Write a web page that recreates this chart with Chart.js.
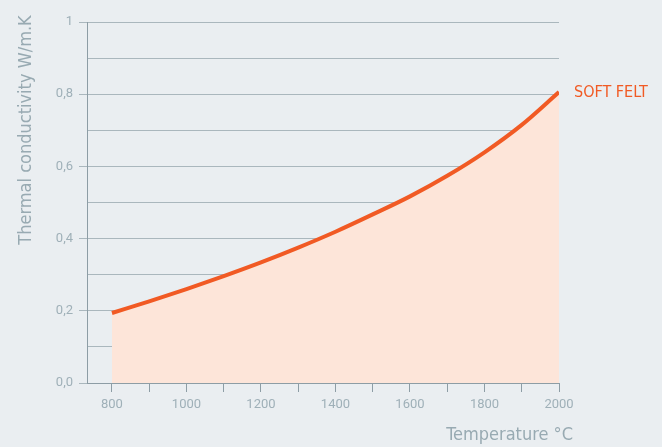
<!DOCTYPE html>
<html>
<head>
<meta charset="utf-8">
<title>Thermal conductivity - soft felt</title>
<script src="https://cdn.jsdelivr.net/npm/chart.js@4"></script>
<style>
  html, body { margin: 0; padding: 0; background: #eaeef1; }
  #wrap { width: 662px; height: 447px; position: relative; }
</style>
</head>
<body>
<div id="wrap"><canvas id="chart"></canvas></div>
<script>
// temperature (°C) and thermal conductivity (W/m.K)
const temperatures = [800, 900, 1000, 1100, 1200, 1300, 1400, 1500, 1600, 1700, 1800, 1900, 2000];
const conductivity = [0.194, 0.226, 0.26, 0.296, 0.334, 0.375, 0.419, 0.467, 0.517, 0.574, 0.639, 0.715, 0.806];
const xTicks = [800, 900, 1000, 1100, 1200, 1300, 1400, 1500, 1600, 1700, 1800, 1900, 2000];
const seriesName = "SOFT FELT";
const xTitle = "Temperature °C";
const yTitle = "Thermal conductivity W/m.K";

const ORANGE = "#f15a24";
const FILL = "#fde5d9";
const GRID = "#aab7bd";
const AXIS = "#8d9da5";
const TICK_TEXT = "#9fb0b8";
const TITLE_TEXT = "#98aab2";
const TITLE_FONT = "'Liberation Sans Narrow', 'DejaVu Sans Condensed', Roboto, sans-serif";

// draws axis titles and the series label by hand so they land where the original has them
const labelsPlugin = {
  id: "labels",
  afterDraw(chart) {
    const { ctx, chartArea } = chart;
    const meta = chart.getDatasetMeta(0);
    const last = meta.data[meta.data.length - 1];

    ctx.save();
    ctx.fillStyle = ORANGE;
    ctx.font = "16px " + TITLE_FONT;
    ctx.textAlign = "left";
    ctx.textBaseline = "middle";
    ctx.fillText(seriesName, last.x + 15, last.y + 1);

    ctx.fillStyle = TITLE_TEXT;
    ctx.font = "18px " + TITLE_FONT;
    ctx.textAlign = "right";
    ctx.textBaseline = "middle";
    ctx.fillText(xTitle, chartArea.right + 14, 435);

    ctx.translate(26, 130);
    ctx.rotate(-Math.PI / 2);
    ctx.textAlign = "center";
    ctx.fillText(yTitle, 0, 0);
    ctx.restore();
  },
};

const ctx = document.getElementById("chart").getContext("2d");
new Chart(ctx, {
  type: "line",
  data: {
    datasets: [
      {
        label: seriesName,
        data: temperatures.map((t, i) => ({ x: t, y: conductivity[i] })),
        borderColor: ORANGE,
        backgroundColor: FILL,
        borderWidth: 4,
        pointRadius: 0,
        fill: "origin",
        cubicInterpolationMode: "monotone",
      },
    ],
  },
  options: {
    responsive: true,
    maintainAspectRatio: false,
    animation: false,
    layout: { padding: { top: 22, right: 103, bottom: 0, left: 0 } },
    plugins: {
      legend: { display: false },
      tooltip: { enabled: false },
    },
    scales: {
      x: {
        type: "linear",
        min: 733,
        max: 2000,
        afterBuildTicks: (scale) => {
          scale.ticks = xTicks.map((v) => ({ value: v }));
        },
        afterFit: (scale) => {
          scale.height = 64;
        },
        ticks: {
          color: TICK_TEXT,
          font: { family: "Roboto", size: 13 },
          padding: 5,
          maxRotation: 0,
          autoSkip: false,
          callback: (v) => (v % 200 === 0 ? String(v) : ""),
        },
        grid: {
          drawOnChartArea: false,
          drawTicks: true,
          tickLength: 9,
          tickColor: AXIS,
        },
        border: { display: true, color: AXIS, width: 1 },
      },
      y: {
        min: 0,
        max: 1,
        afterFit: (scale) => {
          scale.width = 87;
        },
        ticks: {
          stepSize: 0.1,
          color: TICK_TEXT,
          font: { family: "Roboto", size: 13 },
          padding: 6,
          autoSkip: false,
          callback: (v) => {
            const n = Math.round(v * 10);
            if (n % 2 !== 0) return "";
            return n === 10 ? "1" : (n / 10).toFixed(1).replace(".", ",");
          },
        },
        grid: {
          color: GRID,
          lineWidth: 1,
          tickLength: 8,
          tickColor: (c) => (Math.round(c.tick.value * 10) % 2 === 0 ? GRID : "transparent"),
        },
        border: { display: true, color: AXIS, width: 1 },
      },
    },
  },
  plugins: [labelsPlugin],
});
</script>
</body>
</html>
